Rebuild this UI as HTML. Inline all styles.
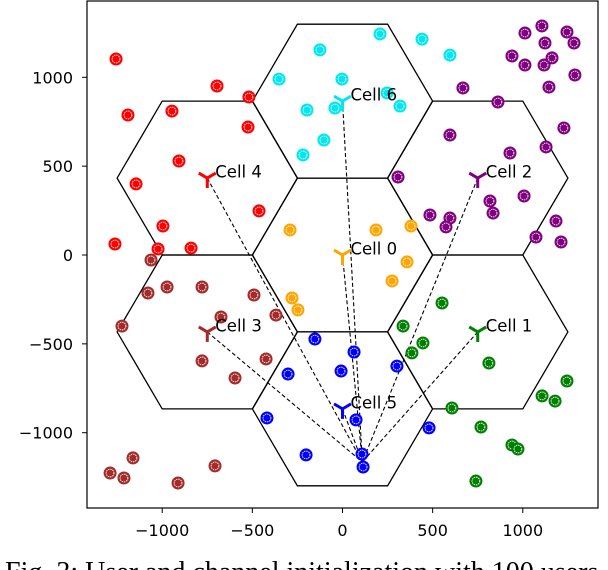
<!DOCTYPE html>
<html><head><meta charset="utf-8"><style>
html,body{margin:0;padding:0;background:#fff;width:608px;height:570px;overflow:hidden}
svg{display:block}
text{font-family:"DejaVu Sans","Liberation Sans",sans-serif}
</style></head><body>
<svg id="chart" width="608" height="570" viewBox="0 0 608 570" xmlns="http://www.w3.org/2000/svg">
<g id="hexes"></g>
<g id="lines"></g>
<g id="points"></g>
<g id="bs"></g>
<rect x="87" y="1" width="511" height="507" fill="none" stroke="#000" stroke-width="1.2"/>
<g id="axes"></g>
<text x="5" y="581" font-size="28" style="font-family:'Liberation Serif',serif">Fig. 3: User and channel initialization with 100 users</text>
</svg>
<script>
const xTicks=[-1000,-500,0,500,1000];
const yTicks=[-1000,-500,0,500,1000];
const cellNames=["Cell 0","Cell 1","Cell 2","Cell 3","Cell 4","Cell 5","Cell 6"];
const cellX=[0,750,750,-750,-750,0,0];
const cellY=[0,-433,433,-433,433,-866,866];
const cellColors=["#ffa500","#008000","#800080","#a52a2a","#ff0000","#0000ff","#00e8ee"];
const target=[110,-1165];
const usersCell0=[[186,141],[380,163],[-291,141],[358,-39],[275,-146],[-280,-242],[-247,-309]];
const usersCell1=[[552,-270],[336,-400],[446,-495],[385,-551],[812,-608],[1245,-709],[1107,-793],[1179,-822],[607,-861],[768,-968],[940,-1069],[973,-1092],[740,-1272]];
const usersCell2=[[1012,1249],[1106,1289],[1245,1255],[1123,1193],[1284,1193],[940,1120],[1012,1069],[1118,1069],[1162,1109],[1289,1013],[1145,945],[668,940],[862,861],[1228,715],[596,675],[1129,608],[929,574],[308,439],[1007,332],[818,304],[835,236],[485,225],[596,208],[574,158],[1184,191],[1073,101],[1212,73]];
const usersCell3=[[-1062,-28],[-973,-180],[-1079,-214],[-779,-180],[-491,-225],[-674,-349],[-369,-338],[-1223,-400],[-779,-596],[-424,-585],[-596,-692],[-1162,-1142],[-1289,-1227],[-1212,-1255],[-707,-1187],[-912,-1283]];
const usersCell4=[[-1256,1103],[-696,951],[-519,889],[-1190,788],[-946,810],[-524,720],[-907,529],[-1145,400],[-463,248],[-996,163],[-1262,62],[-1023,34],[-840,39]];
const usersCell5=[[-153,-473],[64,-546],[-302,-670],[-8,-653],[302,-625],[75,-928],[-419,-917],[480,-973],[-202,-1125],[108,-1120],[114,-1193]];
const usersCell6=[[-125,1154],[208,1244],[441,1215],[596,1125],[-352,990],[-3,990],[247,912],[319,838],[-42,827],[-197,816],[-103,647],[-219,563]];
const users=[usersCell0,usersCell1,usersCell2,usersCell3,usersCell4,usersCell5,usersCell6];

const NS="http://www.w3.org/2000/svg";
const sx=v=>342.5+v*0.1803;
const sy=v=>255-v*0.1777;
function mk(tag,attrs,parent){const e=document.createElementNS(NS,tag);for(const k in attrs)e.setAttribute(k,attrs[k]);parent.appendChild(e);return e;}
const gH=document.getElementById('hexes'),gL=document.getElementById('lines'),gP=document.getElementById('points'),gB=document.getElementById('bs'),gA=document.getElementById('axes');

for(let i=0;i<cellX.length;i++){
  const cx=cellX[i],cy=cellY[i];
  const pts=[[cx+500,cy],[cx+250,cy+433],[cx-250,cy+433],[cx-500,cy],[cx-250,cy-433],[cx+250,cy-433]].map(p=>sx(p[0]).toFixed(1)+','+sy(p[1]).toFixed(1)).join(' ');
  const h=mk('polygon',{points:pts,fill:'none',stroke:'#000','stroke-width':1.3},gH);
  
  
  const l=mk('line',{x1:sx(cx),y1:sy(cy),x2:sx(target[0]),y2:sy(target[1]),stroke:'#000','stroke-width':1.1,'stroke-dasharray':'4,2.5'},gL);
  
  
}
users.forEach((arr,ci)=>{
  arr.forEach(p=>{
    const g=mk('g',{},gP);
    
    
    mk('circle',{cx:sx(p[0]),cy:sy(p[1]),r:6.5,fill:cellColors[ci]},g);
    mk('circle',{cx:sx(p[0]),cy:sy(p[1]),r:3.9,fill:'none',stroke:'#fff','stroke-width':0.9,'stroke-dasharray':'1.5,0.8'},g);
  });
});
for(let i=0;i<cellX.length;i++){
  const x=sx(cellX[i]),y=sy(cellY[i]);
  const g=mk('g',{stroke:cellColors[i],'stroke-width':3,fill:'none'},gB);
  
  
  mk('line',{x1:x,y1:y,x2:x,y2:y+10},g);
  mk('line',{x1:x,y1:y,x2:x-8.5,y2:y-5},g);
  mk('line',{x1:x,y1:y,x2:x+8.5,y2:y-5},g);
  const t=mk('text',{x:x+8,y:y-0.5,'font-size':16.5,fill:'#000'},gB);
  t.textContent=cellNames[i];
  
  
}
xTicks.forEach(v=>{
  const x=sx(v);
  const tk=mk('line',{x1:x,y1:508,x2:x,y2:513,stroke:'#000','stroke-width':1},gA);
  
  
  const t=mk('text',{x:x,y:536,'font-size':16,'text-anchor':'middle'},gA);
  t.textContent=v<0?'\u2212'+Math.abs(v):String(v);
  
  
});
yTicks.forEach(v=>{
  const y=sy(v);
  const tk=mk('line',{x1:82,y1:y,x2:87,y2:y,stroke:'#000','stroke-width':1},gA);
  
  
  const t=mk('text',{x:73,y:y+6,'font-size':16,'text-anchor':'end'},gA);
  t.textContent=v<0?'\u2212'+Math.abs(v):String(v);
  
  
});
</script>
</body></html>
